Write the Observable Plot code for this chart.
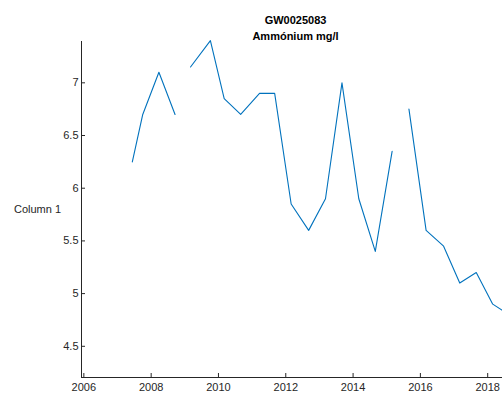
<!DOCTYPE html>
<html>
<head>
<meta charset="utf-8">
<script src="https://cdn.jsdelivr.net/npm/d3@7"></script>
<script src="https://cdn.jsdelivr.net/npm/@observablehq/plot@0.6"></script>
<style>
  html, body { margin: 0; padding: 0; background: #fff; overflow: hidden; }
  #chart svg { display: block; }
</style>
</head>
<body>
<div id="chart"></div>
<script>
// Data (null = gap in the series)
const years = [2007.44, 2007.75, 2008.23, 2008.71, 2008.95, 2009.17, 2009.76, 2010.17, 2010.66, 2011.22, 2011.67, 2012.16, 2012.68, 2013.18, 2013.67, 2014.17, 2014.66, 2015.16, 2015.40, 2015.66, 2016.17, 2016.69, 2017.17, 2017.66, 2018.15, 2018.44];
const values = [6.25, 6.70, 7.10, 6.70, null, 7.15, 7.40, 6.85, 6.70, 6.90, 6.90, 5.85, 5.60, 5.90, 7.00, 5.90, 5.40, 6.35, null, 6.75, 5.60, 5.45, 5.10, 5.20, 4.90, 4.84];
const xTicks = [2006, 2008, 2010, 2012, 2014, 2016, 2018];
const yTicks = [4.5, 5, 5.5, 6, 6.5, 7];
const xDomain = [2005.93, 2018.44];
const yDomain = [4.204, 7.392];
const titleLines = ["GW0025083", "Ammónium mg/l"];
const yLabel = "Column 1";

const data = years.map((t, i) => ({t, v: values[i]}));

const W = 502, H = 394;
const mL = 81, mR = 0, mT = 41, mB = 17;
const frameW = W - mL - mR, frameH = H - mT - mB;
const tickLen = 4;
const axisColor = "#262626";
const font = "'Liberation Sans', Arial, Helvetica, sans-serif";

const chart = Plot.plot({
  width: W,
  height: H,
  marginLeft: mL,
  marginRight: mR,
  marginTop: mT,
  marginBottom: mB,
  style: {fontFamily: font, fontSize: "11px", color: axisColor, background: "#fff"},
  x: {domain: xDomain},
  y: {domain: yDomain},
  marks: [
    // axis lines
    Plot.ruleY([yDomain[0]], {stroke: axisColor, strokeWidth: 1}),
    Plot.ruleX([xDomain[0]], {stroke: axisColor, strokeWidth: 1}),
    // inward ticks
    Plot.tickX(xTicks, {x: d => d, stroke: axisColor, insetTop: frameH - tickLen}),
    Plot.tickY(yTicks, {y: d => d, stroke: axisColor, insetRight: frameW - tickLen}),
    // tick labels
    Plot.axisX({ticks: xTicks, tickSize: 0, tickPadding: 6, tickFormat: d => String(d), label: null, fill: axisColor, fontSize: 11}),
    Plot.axisY({ticks: yTicks, tickSize: 0, tickPadding: 3, tickFormat: d => String(d), label: null, fill: axisColor, fontSize: 11}),
    // series
    Plot.line(data, {x: "t", y: "v", stroke: "#0072BD", strokeWidth: 1.1}),
    // y label
    Plot.text([yLabel], {frameAnchor: "left", dx: -44, text: d => d, textAnchor: "middle", fill: axisColor, fontSize: 11}),
    // title
    Plot.text([titleLines[0]], {frameAnchor: "top", dx: 3.5, dy: -25, text: d => d, fontWeight: "bold", fontSize: 11, fill: "#000"}),
    Plot.text([titleLines[1]], {frameAnchor: "top", dx: 3.5, dy: -9, text: d => d, fontWeight: "bold", fontSize: 11, fill: "#000"})
  ]
});
document.getElementById("chart").appendChild(chart);
</script>
</body>
</html>
